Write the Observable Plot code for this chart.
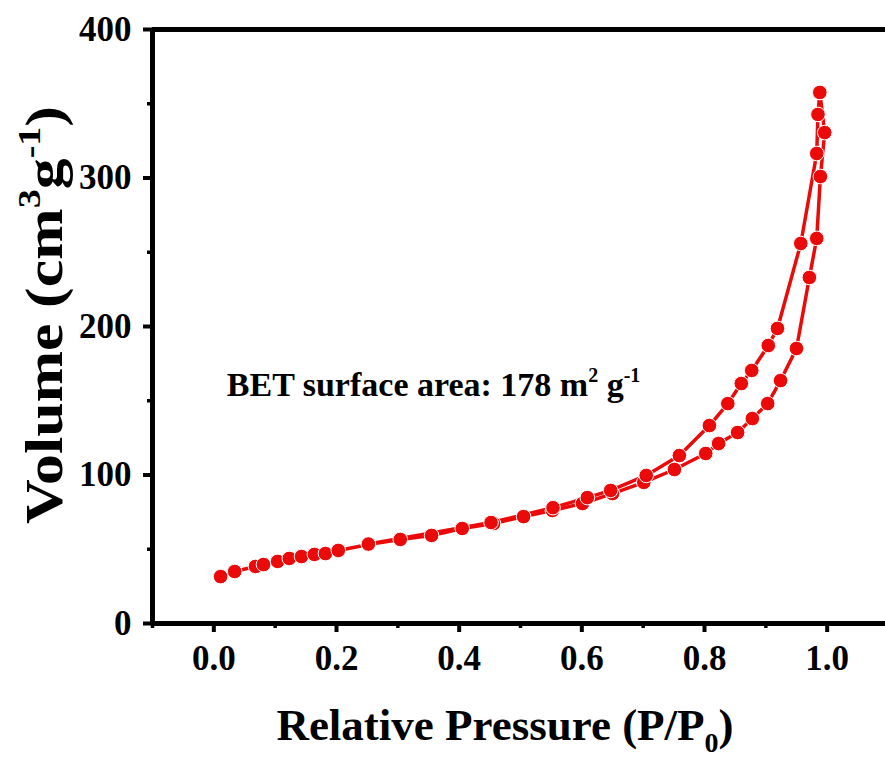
<!DOCTYPE html>
<html><head><meta charset="utf-8">
<script src="https://cdn.jsdelivr.net/npm/d3@7"></script>
<script src="https://cdn.jsdelivr.net/npm/@observablehq/plot@0.6"></script>
<style>body{margin:0;background:#fff} svg{display:block}</style>
</head><body><div id="chart"></div>
<script>
// Adsorption branch (lower curve)
const adsP = [0.011,0.034,0.068,0.081,0.104,0.123,0.143,0.164,0.182,0.203,0.252,0.304,0.355,0.405,0.456,0.505,0.552,0.601,0.650,0.701,0.751,0.802,0.823,0.854,0.878,0.903,0.924,0.950,0.971,0.983,0.989,0.996,0.988];
const adsV = [31.6,35.0,38.4,39.7,41.8,43.8,45.1,46.5,47.1,49.2,53.2,56.6,59.3,64.0,67.3,72.0,76.1,80.8,87.5,95.0,103.7,114.5,121.2,128.6,138.0,148.1,163.6,185.2,233.0,259.3,301.0,330.6,357.6];
// Desorption branch (upper curve)
const desP = [0.988,0.985,0.983,0.957,0.919,0.904,0.877,0.860,0.838,0.808,0.759,0.705,0.647,0.609,0.553,0.452,0.252];
const desV = [357.6,342.8,316.5,255.9,198.7,187.2,170.4,161.6,148.1,133.3,113.1,99.7,89.6,84.8,78.0,68.0,53.5];

const xTicks = [0.0,0.2,0.4,0.6,0.8,1.0];
const xMinor = [-0.1,0.1,0.3,0.5,0.7,0.9];
const yTicks = [0,100,200,300,400];
const yMinor = [50,150,250,350];

const xTitle = ["Relative Pressure (P/P", "0", ")"];
const yTitle = ["Volume (cm", "3", "g", "-1", ")"];
const note = ["BET surface area: 178 m", "2", " g", "-1"];
const noteAt = {p: 0.022, v: 153};

const red = "#eb0a0a";
const ads = adsP.map((p, i) => ({p, v: adsV[i]}));
const des = desP.map((p, i) => ({p, v: desV[i]}));

const chart = Plot.plot({
  width: 885, height: 762,
  marginLeft: 152, marginRight: -3, marginTop: 29, marginBottom: 139,
  style: {fontFamily: "'Liberation Serif','Times New Roman',serif", fontSize: "35px", fontWeight: "bold", background: "white", color: "black"},
  x: {domain: [-0.1, 1.1]},
  y: {domain: [0, 400]},
  marks: [
    Plot.axisX({ticks: xTicks, tickSize: 9, tickPadding: 13, tickFormat: d3.format(".1f"), strokeWidth: 4, label: null}),
    Plot.axisX({ticks: xMinor, tickSize: 5, tickFormat: () => "", strokeWidth: 3.5, label: null}),
    Plot.axisY({ticks: yTicks, tickSize: 9, tickPadding: 12, strokeWidth: 4, label: null}),
    Plot.axisY({ticks: yMinor, tickSize: 5, tickFormat: () => "", strokeWidth: 3.5, label: null}),
    Plot.ruleY([0, 400], {stroke: "black", strokeWidth: 5}),
    Plot.ruleX([-0.1], {stroke: "black", strokeWidth: 5}),
    Plot.line(ads, {x: "p", y: "v", stroke: red, strokeWidth: 3.5}),
    Plot.line(des, {x: "p", y: "v", stroke: red, strokeWidth: 3.5}),
    Plot.dot(ads, {x: "p", y: "v", r: 7.3, fill: red, stroke: "white", strokeWidth: 1}),
    Plot.dot(des, {x: "p", y: "v", r: 7.3, fill: red, stroke: "white", strokeWidth: 1})
  ]
});
document.getElementById("chart").appendChild(chart);

const svg = d3.select(chart);
const fam = "'Liberation Serif','Times New Roman',serif";

// x title
const xt = svg.append("text").attr("x", 505).attr("y", 740).attr("text-anchor", "middle")
  .attr("font-family", fam).attr("font-size", 45).attr("font-weight", "bold").attr("fill", "black");
xt.append("tspan").text(xTitle[0]);
xt.append("tspan").attr("font-size", 28).attr("dy", 12).text(xTitle[1]);
xt.append("tspan").attr("dy", -12).text(xTitle[2]);

// y title
const yt = svg.append("text").attr("transform", "translate(62,315) rotate(-90)").attr("text-anchor", "middle")
  .attr("font-family", fam).attr("font-size", 52).attr("font-weight", "bold").attr("fill", "black")
  .attr("textLength", 418).attr("lengthAdjust", "spacingAndGlyphs");
yt.append("tspan").text(yTitle[0]);
yt.append("tspan").attr("font-size", 32).attr("dy", -22).text(yTitle[1]);
yt.append("tspan").attr("dy", 22).text(yTitle[2]);
yt.append("tspan").attr("font-size", 32).attr("dy", -22).text(yTitle[3]);
yt.append("tspan").attr("dy", 22).text(yTitle[4]);

// annotation
const sx = chart.scale("x"), sy = chart.scale("y");
const nt = svg.append("text").attr("x", sx.apply(noteAt.p)).attr("y", sy.apply(noteAt.v)).attr("text-anchor", "start")
  .attr("font-family", fam).attr("font-size", 34).attr("font-weight", "bold").attr("fill", "black");
nt.append("tspan").text(note[0]);
nt.append("tspan").attr("font-size", 20).attr("dy", -14).text(note[1]);
nt.append("tspan").attr("dy", 14).text(note[2]);
nt.append("tspan").attr("font-size", 20).attr("dy", -14).text(note[3]);
</script>
</body></html>
